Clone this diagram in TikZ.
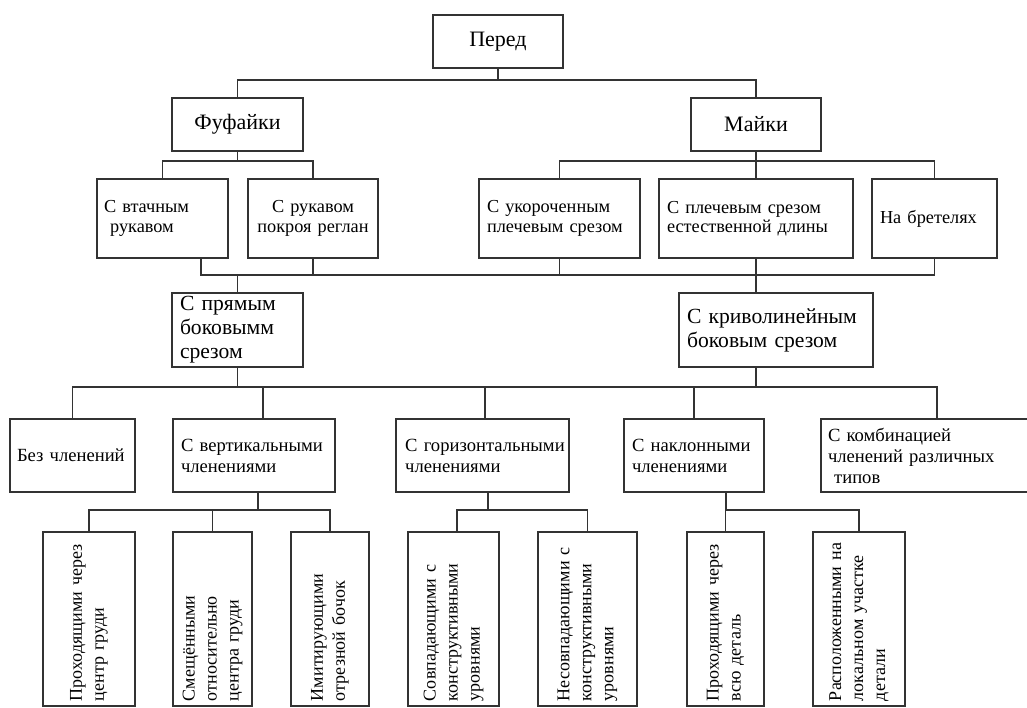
\documentclass[tikz,border=0pt]{standalone}
\usepackage{fontspec}
\setmainfont{Liberation Serif}
\usetikzlibrary{calc}
\tikzset{
    box/.style={draw=black!80, line width=1.4pt, inner xsep=8pt, inner ysep=1pt, align=left},
    cbox/.style={box, align=center},
    link/.style={draw=black!80, line width=1.4pt},
    fontA/.style={font=\fontsize{22}{25}\selectfont},
    fontB/.style={font=\fontsize{18.3}{19.5}\selectfont},
    fontC/.style={font=\fontsize{21.6}{24}\selectfont},
    fontD/.style={font=\fontsize{18.6}{21}\selectfont},
    rbox/.style={box, rotate=90, inner xsep=5pt, text width=164pt, minimum height=#1, font=\fontsize{18}{22}\selectfont}
}
\begin{document}
\begin{tikzpicture}[x=1pt, y=-1pt]

\path[use as bounding box, clip] (0,0) rectangle (1027,708);

% Уровни шин
\coordinate (bus1) at (0,80);
\coordinate (bus2) at (0,161);
\coordinate (bus3) at (0,275);
\coordinate (bus4) at (0,387);
\coordinate (bus5) at (0,510);

% Верхние уровни
\node[cbox, fontA, text width=114pt, minimum height=53pt] (pered) at (498,41.5) {Перед};
\node[cbox, fontA, text width=115pt, minimum height=53pt] (fuf) at (237.5,124.5) {Фуфайки};
\node[cbox, fontA, text width=114pt, minimum height=53pt] (maik) at (756,124.5) {Майки};

\node[box, fontB, text width=117pt, minimum height=79pt, inner xsep=7pt] (vtach) at (162.5,218.5) {С втачным\\ \ рукавом};
\node[cbox, fontB, text width=118pt, minimum height=79pt, inner xsep=6pt] (regl) at (313,218.5) {С рукавом\\покроя реглан};
\node[box, fontB, text width=145pt, minimum height=79pt] (ukor) at (559.5,218.5) {С укороченным\\плечевым срезом};
\node[box, fontB, text width=178pt, minimum height=79pt] (est) at (756,218.5) {С плечевым срезом\\естественной длины};
\node[box, fontB, text width=109pt, minimum height=79pt] (bret) at (934.5,218.5) {На бретелях};

% Боковой срез
\node[box, fontC, text width=115pt, minimum height=74pt] (pryam) at (237.5,330) {С прямым\\боковымм\\срезом};
\node[box, fontC, text width=178pt, minimum height=74pt] (kriv) at (776,330) {С криволинейным\\боковым срезом};

% Членения
\node[box, fontD, text width=111pt, minimum height=73pt, inner xsep=7pt] (bez) at (72.5,455.5) {Без членений};
\node[box, fontD, text width=146pt, minimum height=73pt] (vert) at (254,455.5) {С вертикальными\\членениями};
\node[box, fontD, text width=167pt, minimum height=73pt, inner xsep=3pt] (goriz) at (482.5,455.5) {\ С горизонтальными\\\ членениями};
\node[box, fontD, text width=124pt, minimum height=73pt] (nakl) at (694,455.5) {С наклонными\\членениями};
\node[box, fontD, text width=218pt, minimum height=73pt, inner xsep=7pt] (komb) at (937,455.5) {С комбинацией\\членений различных\\ \ типов};

% Вертикальные блоки
\node[rbox=92pt] (r1) at (89,619) {Проходящими через\\центр груди};
\node[rbox=79pt] (r2) at (212.5,619) {Смещёнными\\относительно\\центра груди};
\node[rbox=78pt] (r3) at (330,619) {Имитирующими\\отрезной бочок};
\node[rbox=91pt] (r4) at (453.5,619) {Совпадающими с\\конструктивными\\уровнями};
\node[rbox=99pt] (r5) at (587.5,619) {Несовпадающими с\\конструктивными\\уровнями};
\node[rbox=77pt] (r6) at (725.5,619) {Проходящими через\\всю деталь};
\node[rbox=92pt] (r7) at (859,619) {Расположенными на\\локальном участке\\детали};

% Перед -> Фуфайки, Майки
\draw[link] (pered.south) -- (pered.south |- bus1);
\draw[link] (fuf.north) |- (maik.north |- bus1) -- (maik.north);

% Фуфайки, Майки -> рукава и плечевые срезы
\draw[link] (fuf.south) -- (fuf.south |- bus2);
\draw[link] (vtach.north) |- (regl.north |- bus2) -- (regl.north);
\draw[link] (maik.south) -- (maik.south |- bus2);
\draw[link] (ukor.north) |- (bret.north |- bus2) -- (bret.north);
\draw[link] (est.north) -- (est.north |- bus2);

% Общая шина -> боковой срез
\coordinate (vtach-out) at ([xshift=38.5pt]vtach.south);
\draw[link] (vtach-out) |- (bret.south |- bus3) -- (bret.south);
\foreach \n in {regl, ukor, est}
    \draw[link] (\n.south) -- (\n.south |- bus3);
\draw[link] (pryam.north) -- (pryam.north |- bus3);
\coordinate (kriv-in) at ([xshift=-20pt]kriv.north);
\draw[link] (kriv-in) -- (kriv-in |- bus3);

% Боковой срез -> членения
\draw[link] (pryam.south) -- (pryam.south |- bus4);
\coordinate (kriv-out) at ([xshift=-20pt]kriv.south);
\draw[link] (kriv-out) -- (kriv-out |- bus4);
\draw[link] (bez.north) |- (komb.north |- bus4) -- (komb.north);
\coordinate (vert-in) at ([xshift=9pt]vert.north);
\coordinate (goriz-in) at ([xshift=2.5pt]goriz.north);
\foreach \n in {vert-in, goriz-in, nakl.north}
    \draw[link] (\n) -- (\n |- bus4);

% Членения -> вертикальные блоки
\coordinate (vert-out) at ([xshift=4pt]vert.south);
\coordinate (goriz-out) at ([xshift=5.5pt]goriz.south);
\coordinate (nakl-out) at ([xshift=32pt]nakl.south);
\coordinate (r4-in) at ([xshift=3.5pt]r4.east);
\foreach \n in {vert-out, goriz-out, nakl-out}
    \draw[link] (\n) -- (\n |- bus5);
\draw[link] (r1.east) |- (r3.east |- bus5) -- (r3.east);
\draw[link] (r2.east) -- (r2.east |- bus5);
\draw[link] (r4-in) |- (r5.east |- bus5) -- (r5.east);
\draw[link] (r6.east) |- (r7.east |- bus5) -- (r7.east);

\end{tikzpicture}
\end{document}
